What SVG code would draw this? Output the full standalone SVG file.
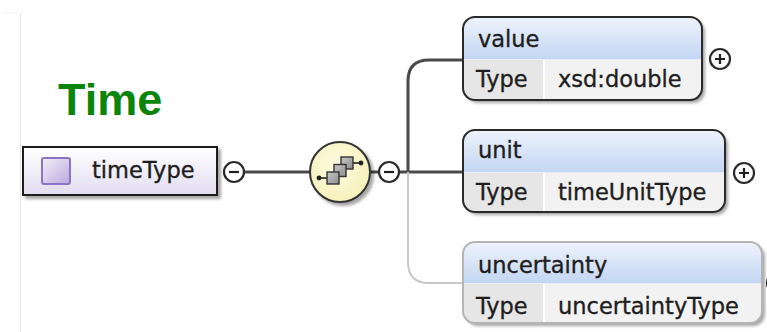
<svg xmlns="http://www.w3.org/2000/svg" width="767" height="332" viewBox="0 0 767 332">
  <defs>
    <linearGradient id="hdr" x1="0" y1="0" x2="0" y2="1">
      <stop offset="0" stop-color="#eef3fc"/>
      <stop offset="1" stop-color="#c3d6f2"/>
    </linearGradient>
    <linearGradient id="typeGrad" x1="0" y1="0" x2="0" y2="1">
      <stop offset="0" stop-color="#ffffff"/>
      <stop offset="1" stop-color="#e2ddf0"/>
    </linearGradient>
    <linearGradient id="iconGrad" x1="0" y1="0" x2="1" y2="1">
      <stop offset="0" stop-color="#f4f0fb"/>
      <stop offset="1" stop-color="#b8a8dc"/>
    </linearGradient>
    <radialGradient id="seqGrad" cx="0.45" cy="0.4" r="0.7">
      <stop offset="0" stop-color="#fdfbe0"/>
      <stop offset="1" stop-color="#f6efb4"/>
    </radialGradient>
    <linearGradient id="sqGrad" x1="0" y1="0" x2="1" y2="1">
      <stop offset="0" stop-color="#c8c8c8"/>
      <stop offset="1" stop-color="#8c8c8c"/>
    </linearGradient>
    <filter id="shadow" x="-10%" y="-10%" width="125%" height="130%">
      <feDropShadow dx="3" dy="3" stdDeviation="1.8" flood-color="#000" flood-opacity="0.35"/>
    </filter>
    <clipPath id="clipValue"><rect x="463" y="17" width="239" height="83" rx="12"/></clipPath>
    <clipPath id="clipUnit"><rect x="463" y="130" width="262" height="82" rx="12"/></clipPath>
    <clipPath id="clipUnc"><rect x="463" y="242" width="299" height="81" rx="12"/></clipPath>
  </defs>
  <style>
    .lbl { font-family: "DejaVu Sans", "Liberation Sans", sans-serif; font-size: 22.5px; fill: #1e1e1e; stroke: #1e1e1e; stroke-width: 0.35px; }
    .title { font-family: "Liberation Sans", Arial, sans-serif; font-weight: bold; font-size: 45px; fill: #0a850a; }
    .conn { fill: none; stroke: #4a4a4a; stroke-width: 3; }
    .connOpt { fill: none; stroke: #c8c8c8; stroke-width: 2; }
    .ctl { fill: #fff; stroke: #2a2a2a; stroke-width: 2.2; }
    .ctlMark { stroke: #1e1e1e; stroke-width: 2.2; fill: none; }
    .rowType { fill: #e6e6e6; }
    .sep { stroke: #fff; stroke-width: 2; }
  </style>

  <rect width="767" height="332" fill="#ffffff"/>
  <line x1="20.5" y1="13" x2="20.5" y2="332" stroke="#e6e6e6" stroke-width="1"/>
  <line x1="5" y1="13" x2="20" y2="13" stroke="#f4f4f4" stroke-width="1"/>

  <text class="title" x="58" y="115">Time</text>

  <g id="connectors">
    <line class="conn" x1="244" y1="172" x2="310" y2="172"/>
    <line class="conn" x1="370" y1="172" x2="379" y2="172"/>
    <line class="conn" x1="399" y1="172" x2="463" y2="172"/>
    <path class="connOpt" d="M408,172 V262 Q408,283 429,283 H463"/>
    <path class="conn" d="M408,172 V81 Q408,60 429,60 H463"/>
  </g>

  <g id="timeType">
    <rect x="23" y="147" width="194" height="48" fill="url(#typeGrad)" stroke="#1e1e1e" stroke-width="2" filter="url(#shadow)"/>
    <rect x="42" y="158" width="28" height="26" rx="2" fill="url(#iconGrad)" stroke="#8c74c4" stroke-width="2"/>
    <text class="lbl" x="92" y="178">timeType</text>
    <circle class="ctl" cx="234" cy="172" r="10"/>
    <line class="ctlMark" x1="229" y1="172" x2="239" y2="172"/>
  </g>

  <g id="sequence">
    <circle cx="340" cy="172" r="30" fill="url(#seqGrad)" stroke="#333" stroke-width="2" filter="url(#shadow)"/>
    <line x1="319" y1="178" x2="327" y2="178" stroke="#222" stroke-width="1.6"/>
    <line x1="353" y1="163" x2="361" y2="163" stroke="#222" stroke-width="1.6"/>
    <circle cx="319" cy="178" r="2.4" fill="#222"/>
    <circle cx="361" cy="163" r="2.4" fill="#222"/>
    <rect x="341" y="157" width="12" height="12" fill="url(#sqGrad)" stroke="#333" stroke-width="1.4"/>
    <rect x="334" y="164.5" width="12" height="12" fill="url(#sqGrad)" stroke="#333" stroke-width="1.4"/>
    <rect x="327" y="172" width="12" height="12" fill="url(#sqGrad)" stroke="#333" stroke-width="1.4"/>
    <circle class="ctl" cx="389" cy="172" r="10"/>
    <line class="ctlMark" x1="384" y1="172" x2="394" y2="172"/>
  </g>

  <g id="value">
    <g filter="url(#shadow)">
      <rect x="463" y="17" width="239" height="83" rx="12" fill="#f2f2f2"/>
    </g>
    <g clip-path="url(#clipValue)">
      <rect x="463" y="17" width="239" height="42" fill="url(#hdr)"/>
      <rect class="rowType" x="463" y="59" width="81" height="41"/>
      <line x1="463" y1="59.5" x2="702" y2="59.5" stroke="#e8eef8" stroke-width="1"/>
      <line class="sep" x1="544" y1="60" x2="544" y2="100"/>
    </g>
    <rect x="463" y="17" width="239" height="83" rx="12" fill="none" stroke="#2a2a2a" stroke-width="2"/>
    <text class="lbl" x="478" y="47">value</text>
    <text class="lbl" x="476" y="87">Type</text>
    <text class="lbl" x="558" y="87">xsd:double</text>
    <circle class="ctl" cx="720" cy="59" r="10"/>
    <path class="ctlMark" d="M715,59 H725 M720,54 V64"/>
  </g>

  <g id="unit">
    <g filter="url(#shadow)">
      <rect x="463" y="130" width="262" height="82" rx="12" fill="#f2f2f2"/>
    </g>
    <g clip-path="url(#clipUnit)">
      <rect x="463" y="130" width="262" height="42" fill="url(#hdr)"/>
      <rect class="rowType" x="463" y="172" width="81" height="40"/>
      <line x1="463" y1="172.5" x2="725" y2="172.5" stroke="#e8eef8" stroke-width="1"/>
      <line class="sep" x1="544" y1="173" x2="544" y2="212"/>
    </g>
    <rect x="463" y="130" width="262" height="82" rx="12" fill="none" stroke="#2a2a2a" stroke-width="2"/>
    <text class="lbl" x="478" y="158">unit</text>
    <text class="lbl" x="476" y="200">Type</text>
    <text class="lbl" x="558" y="200">timeUnitType</text>
    <circle class="ctl" cx="744" cy="173" r="10"/>
    <path class="ctlMark" d="M739,173 H749 M744,168 V178"/>
  </g>

  <g id="uncertainty">
    <g filter="url(#shadow)">
      <rect x="463" y="242" width="299" height="81" rx="12" fill="#f2f2f2"/>
    </g>
    <g clip-path="url(#clipUnc)">
      <rect x="463" y="242" width="299" height="41" fill="url(#hdr)"/>
      <rect class="rowType" x="463" y="283" width="81" height="40"/>
      <line x1="463" y1="283.5" x2="762" y2="283.5" stroke="#e8eef8" stroke-width="1"/>
      <line class="sep" x1="544" y1="284" x2="544" y2="323"/>
    </g>
    <rect x="463" y="242" width="299" height="81" rx="12" fill="none" stroke="#b4b4b4" stroke-width="2"/>
    <text class="lbl" x="478" y="273">uncertainty</text>
    <text class="lbl" x="476" y="314">Type</text>
    <text class="lbl" x="558" y="314">uncertaintyType</text>
    <circle class="ctl" cx="777" cy="283" r="10"/>
  </g>
</svg>
